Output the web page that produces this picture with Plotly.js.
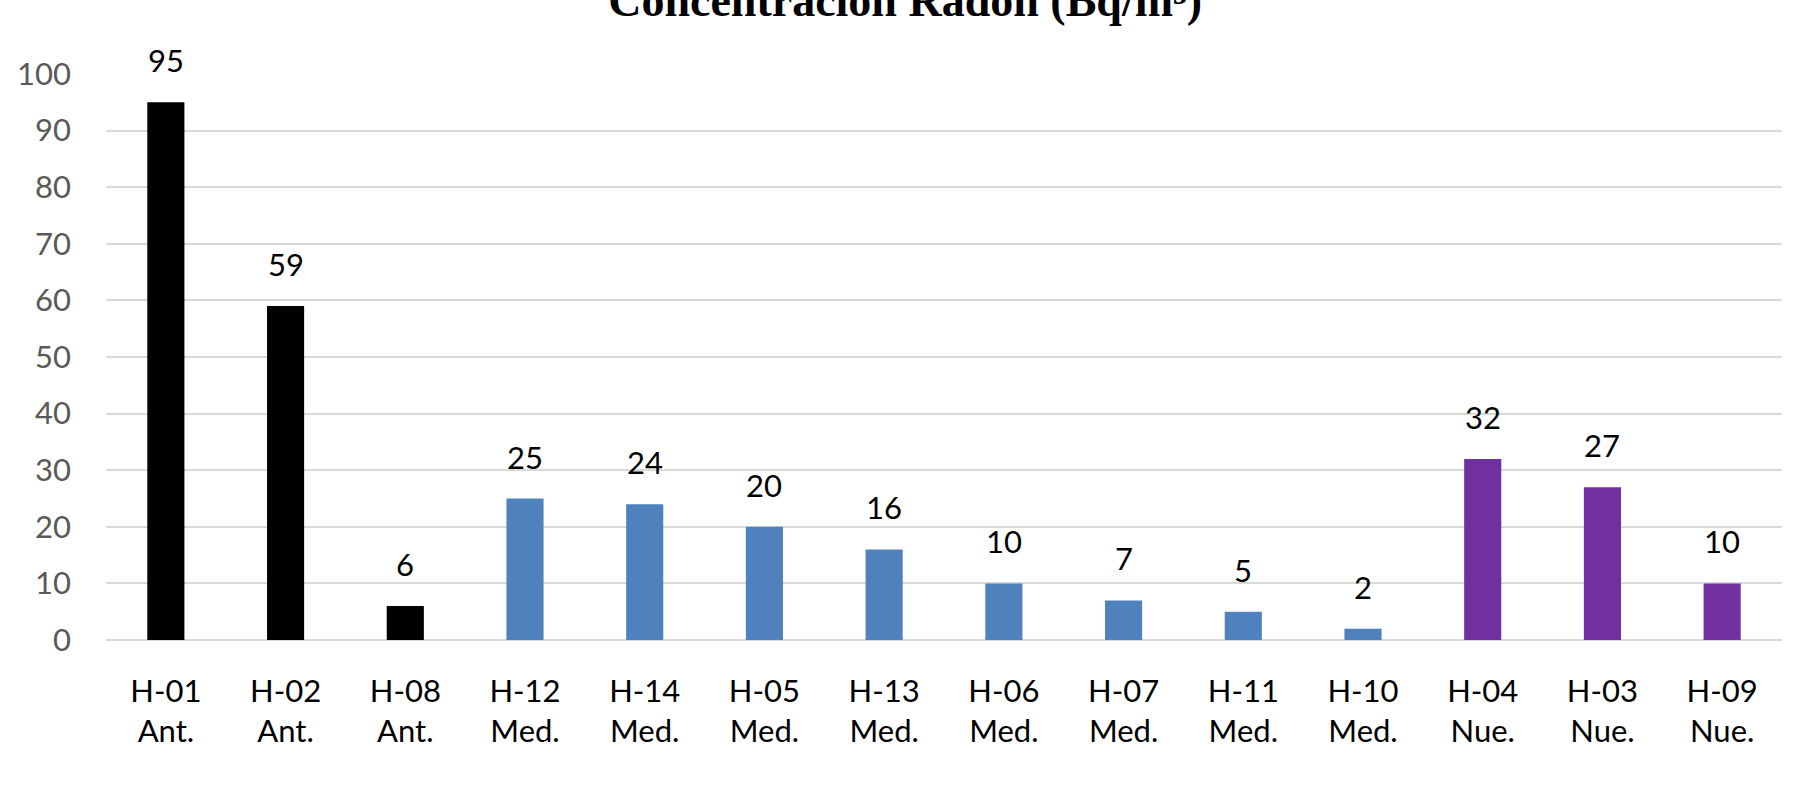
<!DOCTYPE html>
<html>
<head>
<meta charset="utf-8">
<script src="https://cdn.plot.ly/plotly-3.0.1.min.js"></script>
<style>
  html, body { margin: 0; padding: 0; background: #ffffff; }
  #chart { width: 1796px; height: 801px; }
</style>
</head>
<body>
<div id="chart"></div>
<script>
// Radon concentration per dwelling, grouped by building age
const codes = ["H-01", "H-02", "H-08", "H-12", "H-14", "H-05", "H-13", "H-06", "H-07", "H-11", "H-10", "H-04", "H-03", "H-09"];
const ages = ["Ant.", "Ant.", "Ant.", "Med.", "Med.", "Med.", "Med.", "Med.", "Med.", "Med.", "Med.", "Nue.", "Nue.", "Nue."];
const radon = [95, 59, 6, 25, 24, 20, 16, 10, 7, 5, 2, 32, 27, 10];
const yTicks = [0, 10, 20, 30, 40, 50, 60, 70, 80, 90, 100];

const groupColors = { "Ant.": "#000000", "Med.": "#4f81bd", "Nue.": "#7030a0" };

const labels = codes.map((c, i) => c + "<br>" + ages[i]);

const trace = {
  type: "bar",
  x: labels,
  y: radon,
  marker: { color: ages.map(a => groupColors[a]) },
  hoverinfo: "x+y"
};

// value labels sitting above each bar
const valueNotes = radon.map((v, i) => ({
  x: labels[i],
  y: v,
  xref: "x",
  yref: "y",
  text: String(v),
  showarrow: false,
  yanchor: "bottom",
  yshift: 21,
  font: { family: "Lato, sans-serif", size: 31, color: "#000000" }
}));

const layout = {
  width: 1796,
  height: 801,
  paper_bgcolor: "#ffffff",
  plot_bgcolor: "#ffffff",
  showlegend: false,
  bargap: 0.69,
  margin: { l: 106, r: 14, t: 74, b: 161 },
  title: {
    text: "<b>Concentración Radón (Bq/m³)</b>",
    font: { family: "Liberation Serif, Times New Roman, serif", size: 46, color: "#000000" },
    xref: "container",
    yref: "container",
    x: 0.504,
    xanchor: "center",
    y: 1,
    yanchor: "middle"
  },
  xaxis: {
    type: "category",
    showgrid: false,
    showline: false,
    zeroline: false,
    ticks: "",
    tickfont: { family: "Lato, sans-serif", size: 31, color: "#000000" },
    ticklabelstandoff: 30
  },
  yaxis: {
    range: [0, 100],
    tickvals: yTicks,
    showgrid: true,
    gridcolor: "#d9d9d9",
    gridwidth: 2,
    zeroline: true,
    zerolinecolor: "#d9d9d9",
    zerolinewidth: 2,
    showline: false,
    ticks: "",
    tickfont: { family: "Lato, sans-serif", size: 31, color: "#595959" },
    ticklabelstandoff: 34
  },
  annotations: valueNotes
};

Plotly.newPlot("chart", [trace], layout, { displayModeBar: false, staticPlot: true });
</script>
</body>
</html>
